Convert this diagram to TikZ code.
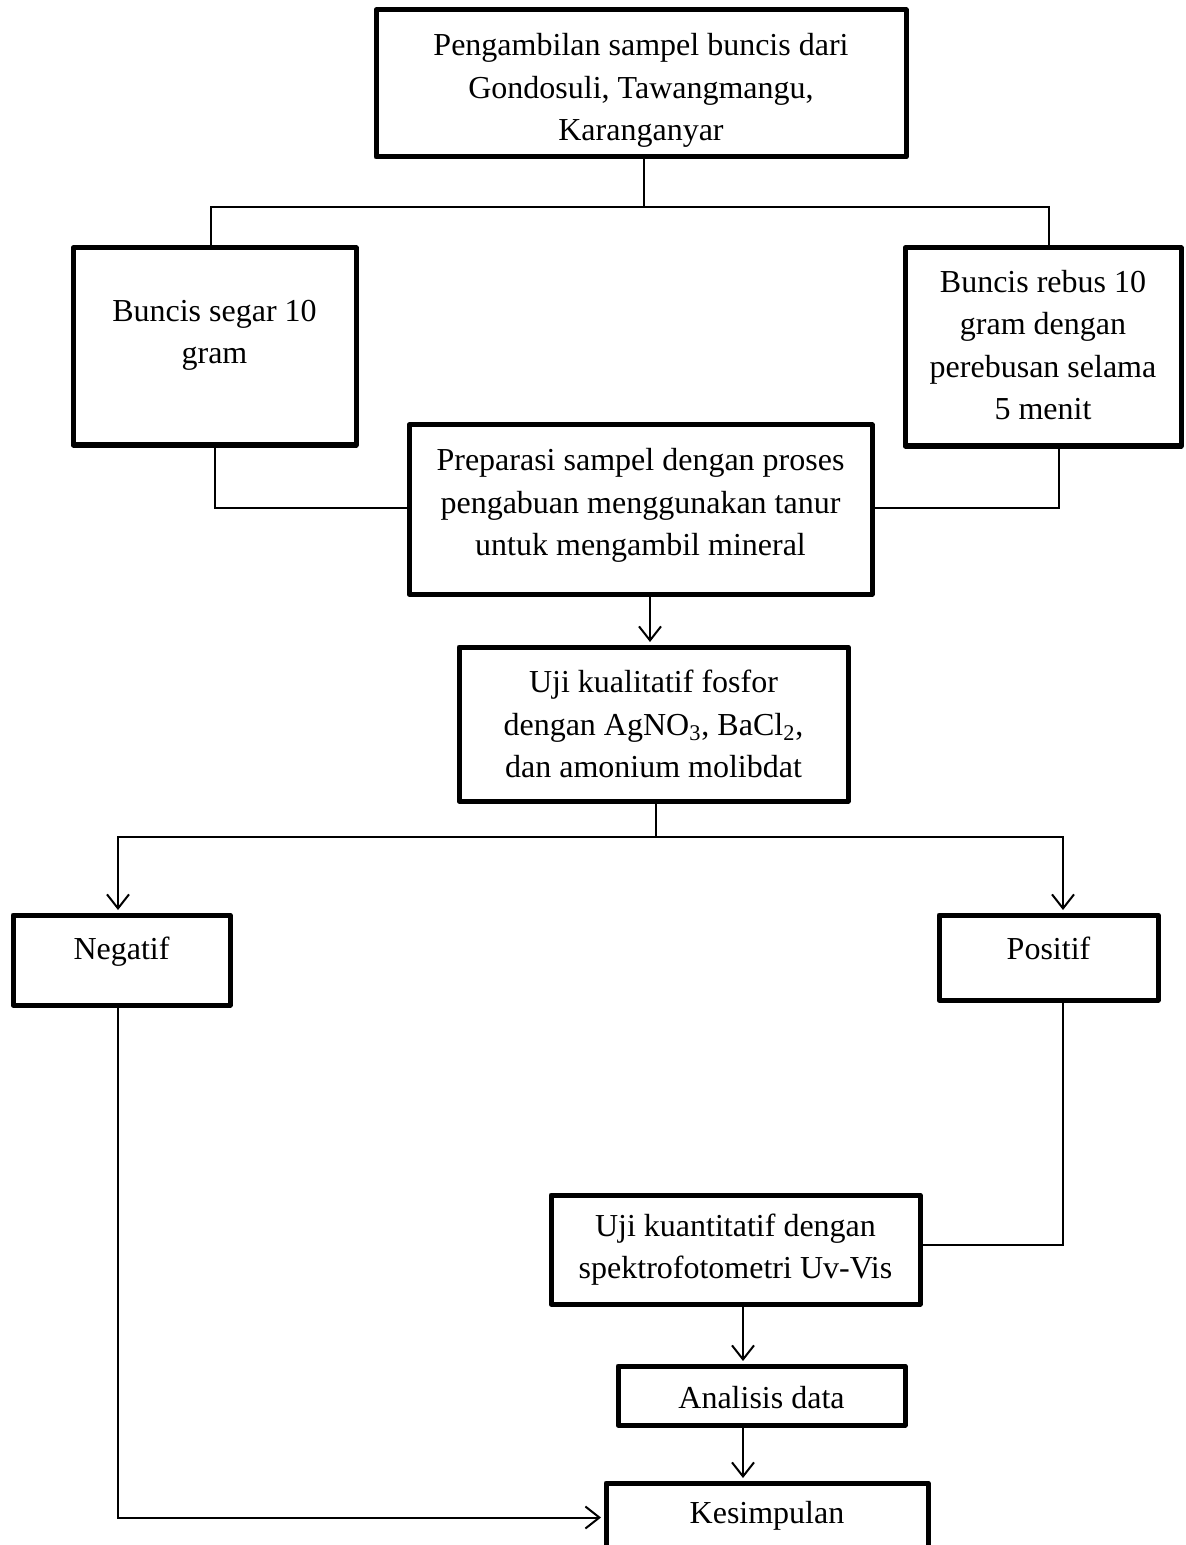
\documentclass[tikz,border=0pt]{standalone}
\usepackage{fontspec}
\setmainfont{Liberation Serif}
\usetikzlibrary{arrows.meta}
\begin{document}
\begin{tikzpicture}[x=0.5pt,y=-0.5pt,
  box/.style={draw, line width=2.5pt, line join=round, inner sep=0pt},
  txt/.style={align=center, font=\fontsize{16}{21.3}\selectfont, inner sep=0pt},
  ln/.style={line width=1pt},
  arr/.style={ln, shorten >=1.25pt, -{Straight Barb[length=7pt,width=11pt,line width=1pt]}}]
\clip (0,0) rectangle (1186,1545);
\fill[white] (0,0) rectangle (1186,1545);

\node[box, minimum width=265pt, minimum height=73.5pt,
  label={[txt,label distance=0pt,yshift=-3.5pt]center:{Pengambilan sampel buncis dari\\Gondosuli, Tawangmangu,\\Karanganyar}}] (top) at (641,83.5) {};
\node[box, minimum width=141.5pt, minimum height=98.5pt,
  label={[txt,label distance=0pt,yshift=5.5pt]center:{Buncis segar 10\\gram}}] (left) at (214.5,346.5) {};
\node[box, minimum width=138pt, minimum height=99pt,
  label={[txt,label distance=0pt,yshift=1pt]center:{Buncis rebus 10\\gram dengan\\perebusan selama\\5 menit}}] (right) at (1043,347) {};
\node[box, minimum width=231.5pt, minimum height=84.5pt,
  label={[txt,label distance=0pt,yshift=2pt]center:{Preparasi sampel dengan proses\\pengabuan menggunakan tanur\\untuk mengambil mineral}}] (prep) at (640.5,509.5) {};
\node[box, minimum width=194.5pt, minimum height=77pt,
  label={[txt,label distance=0pt]center:{Uji kualitatif fosfor\\dengan AgNO\textsubscript{3}, BaCl\textsubscript{2},\\dan amonium molibdat}}] (kual) at (653.5,724) {};
\node[box, minimum width=108.5pt, minimum height=45pt,
  label={[txt,label distance=0pt,yshift=4pt]center:Negatif}] (neg) at (121.5,960) {};
\node[box, minimum width=109.5pt, minimum height=42.5pt,
  label={[txt,label distance=0pt,yshift=4.75pt]center:Positif}] (pos) at (1048.5,957.5) {};
\node[box, minimum width=184.5pt, minimum height=54.5pt,
  label={[txt,label distance=0pt]center:{Uji kuantitatif dengan\\spektrofotometri Uv-Vis}}] (kuan) at (735.5,1249.5) {};
\node[box, minimum width=143.5pt, minimum height=29.5pt,
  label={[txt,label distance=0pt,yshift=-1.25pt]center:Analisis data}] (anal) at (761.5,1395.5) {};
\node[box, minimum width=161pt, minimum height=34.5pt,
  label={[txt,label distance=0pt,yshift=0.75pt]center:Kesimpulan}] (kes) at (767,1517.5) {};

% top splitting
\coordinate (j1) at (644,207);
\draw[ln] ([xshift=1.5pt]top.south) -- (j1);
\draw[ln] ([xshift=-1.75pt]left.north) |- (j1) -| ([xshift=3pt]right.north);
% into preparation
\draw[ln] ([xshift=0.25pt]left.south) |- ([yshift=0.75pt]prep.west);
\draw[ln] ([xshift=8pt]right.south) |- ([yshift=0.75pt]prep.east);
\draw[arr] ([xshift=4.75pt]prep.south) -- ([xshift=4.75pt]prep.south |- kual.north);
% qualitative split
\coordinate (s) at (656,837);
\draw[ln] (kual.south -| s) -- (s);
\draw[arr] (s) -| ([xshift=-1.75pt]neg.north);
\draw[arr] (s) -| ([xshift=7.25pt]pos.north);
% negative to conclusion
\draw[arr] ([xshift=-1.75pt]neg.south) |- (kes.west);
% positive to quantitative
\draw[ln] ([xshift=7.25pt]pos.south) |- ([yshift=2.25pt]kuan.east);
\draw[arr] ([xshift=3.75pt]kuan.south) -- ([xshift=3.75pt]kuan.south |- anal.north);
\draw[arr] ([xshift=-9.25pt]anal.south) -- ([xshift=-9.25pt]anal.south |- kes.north);
\end{tikzpicture}
\end{document}
